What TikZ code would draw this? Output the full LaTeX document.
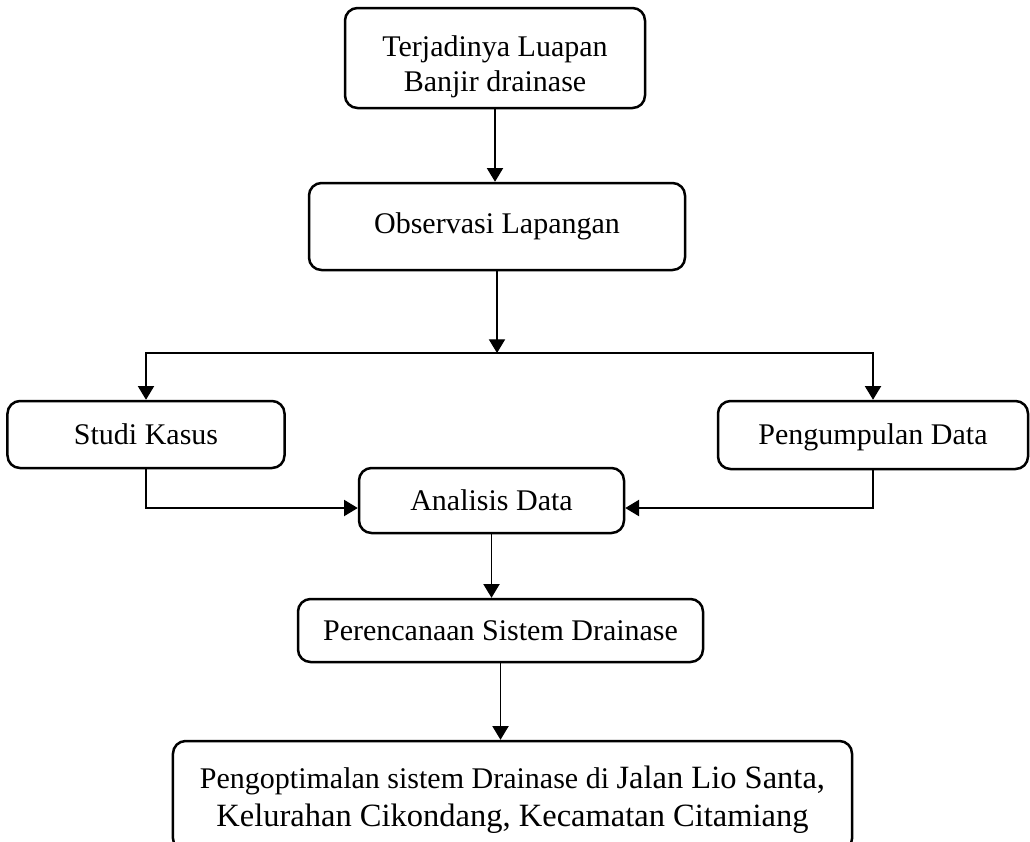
\documentclass[tikz,border=0pt]{standalone}
\usepackage{fontspec}
\setmainfont{Liberation Serif}
\usetikzlibrary{arrows.meta}
\begin{document}
\begin{tikzpicture}[x=0.4pt, y=-0.4pt,
        main/.style = {draw, rounded corners=5pt, line width=1pt, align=center, inner sep=0pt, font=\fontsize{12}{14}\selectfont},
        arrow/.style = {-{Triangle[length=5.5pt, width=6.5pt]}, line width=0.5pt}]
        \useasboundingbox (0,0) rectangle (1030,841);

        \node[main, minimum width=120pt, minimum height=40pt] (luapan) at (495,58) {\rule{0pt}{15pt}Terjadinya Luapan\\Banjir drainase};
        \node[main, minimum width=150.4pt, minimum height=34.8pt] (observasi) at (497,226.5) {Observasi Lapangan};
        \node[main, minimum width=110.8pt, minimum height=26.8pt] (studi) at (146,434.5) {Studi Kasus};
        \node[main, minimum width=124pt, minimum height=27.2pt] (kumpul) at (873,435) {\rule{0pt}{10pt}Pengumpulan Data};
        \node[main, minimum width=106pt, minimum height=26pt] (analisis) at (491.5,500.5) {Analisis Data};
        \node[main, minimum width=162pt, minimum height=25.2pt] (rencana) at (500.5,630.5) {Perencanaan Sistem Drainase};
        \node[main, minimum width=271.6pt, minimum height=44pt, font=\fontsize{12}{15}\selectfont] (optimal) at (512.5,796) {\rule{0pt}{12pt}Pengoptimalan sistem Drainase di {\fontsize{13}{15}\selectfont Jalan Lio Santa,}\\{\fontsize{13}{15}\selectfont Kelurahan Cikondang, Kecamatan Citamiang}};
        \coordinate (split) at (497,353);

        \draw[arrow] (luapan.south) -- (luapan.south |- observasi.north);
        \draw[arrow] (observasi.south) -- (split);
        \draw[arrow] (split) -| (studi.north);
        \draw[arrow] (split) -| (kumpul.north);

        \draw[arrow] (studi.south) |- ([yshift=-3pt]analisis.west);
        \draw[arrow] (kumpul.south) |- ([yshift=-3pt]analisis.east);

        \draw[arrow] (analisis.south) -- (analisis.south |- rencana.north);
        \draw[arrow] (rencana.south) -- (rencana.south |- optimal.north);
    \end{tikzpicture}
\end{document}
